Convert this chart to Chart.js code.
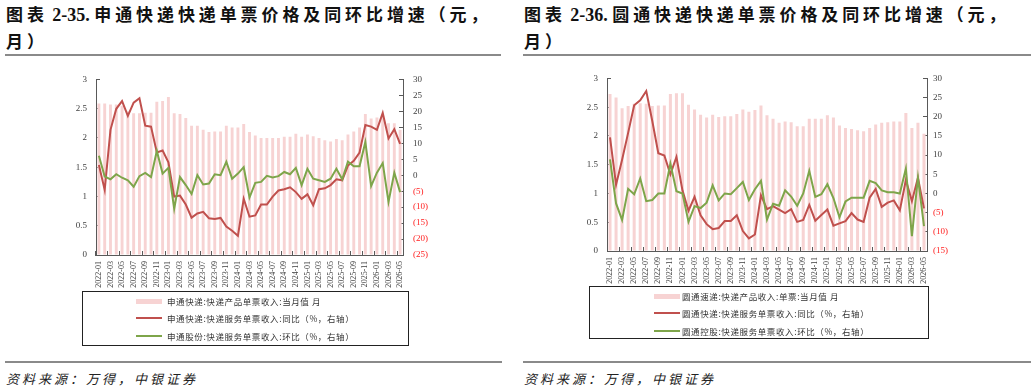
<!DOCTYPE html>
<html>
<head>
<meta charset="utf-8">
<script src="https://cdn.jsdelivr.net/npm/chart.js@4.4.1/dist/chart.umd.min.js"></script>
<style>
  body { margin: 0; width: 1033px; height: 391px; background: #fff; position: relative; overflow: hidden; font-family: "Noto Sans CJK SC", sans-serif; }
  .title { position: absolute; top: 1px; font-weight: bold; font-size: 17px; letter-spacing: 3.9px; line-height: 25px; color: #111; white-space: nowrap; }
  .title .num { font-family: "Liberation Serif", serif; letter-spacing: 0; font-size: 18px; }
  .rule { position: absolute; height: 2px; background: #8a8a8a; }
  .src { position: absolute; top: 369px; font-size: 13px; font-style: italic; letter-spacing: 3px; color: #222; white-space: nowrap; }
  .legend { position: absolute; border: 1px solid #222; box-sizing: border-box; }
  .legend .sw { position: absolute; width: 26px; }
  .legend .tx { position: absolute; font-size: 8.5px; letter-spacing: 0.6px; color: #333; white-space: nowrap; line-height: 12px; }
  canvas { position: absolute; }
</style>
</head>
<body>

<div class="title" style="left:6px;">图表<span class="num"> 2-35. </span>申通快递快递单票价格及同环比增速（元，<br>月）</div>
<div class="rule" style="left:5px; width:496px; top:54px;"></div>
<div class="title" style="left:524px;">图表<span class="num"> 2-36. </span>圆通快递快递单票价格及同环比增速（元，<br>月）</div>
<div class="rule" style="left:523px; width:508px; top:54px;"></div>

<canvas id="stoChart" width="510" height="240" style="left:0; top:60px;"></canvas>
<canvas id="ytoChart" width="513" height="236" style="left:520px; top:60px;"></canvas>

<div class="legend" style="left:82px; top:291px; width:327px; height:55px;">
  <div class="sw" style="left:53px; top:7px; height:5px; background:#f7d3d3;"></div>
  <div class="tx" style="left:84px; top:3px;">申通快递:快递产品单票收入:当月值 月</div>
  <div class="sw" style="left:53px; top:25px; height:2px; background:#c0504d;"></div>
  <div class="tx" style="left:84px; top:20px;">申通快递:快递服务单票收入:同比（%，右轴）</div>
  <div class="sw" style="left:53px; top:43px; height:2px; background:#7ea54a;"></div>
  <div class="tx" style="left:84px; top:38px;">申通股份:快递服务单票收入:环比（%，右轴）</div>
</div>

<div class="legend" style="left:589px; top:286px; width:340px; height:53px;">
  <div class="sw" style="left:64px; top:7px; height:5px; background:#f7d3d3;"></div>
  <div class="tx" style="left:92px; top:3px;">圆通速递:快递产品收入:单票:当月值 月</div>
  <div class="sw" style="left:64px; top:25px; height:2px; background:#c0504d;"></div>
  <div class="tx" style="left:92px; top:20px;">圆通快递:快递服务单票收入:同比（%，右轴）</div>
  <div class="sw" style="left:64px; top:43px; height:2px; background:#7ea54a;"></div>
  <div class="tx" style="left:92px; top:38px;">圆通控股:快递服务单票收入:环比（%，右轴）</div>
</div>

<div class="rule" style="left:5px; width:497px; top:361px;"></div>
<div class="src" style="left:6px;">资料来源：万得，中银证券</div>
<div class="rule" style="left:523px; width:508px; top:361px;"></div>
<div class="src" style="left:524px;">资料来源：万得，中银证券</div>

<script>
// 月份 2022-01 ~ 2026-05
const months = [
    '2022-01','2022-02','2022-03','2022-04','2022-05','2022-06','2022-07','2022-08','2022-09','2022-10','2022-11','2022-12',
    '2023-01','2023-02','2023-03','2023-04','2023-05','2023-06','2023-07','2023-08','2023-09','2023-10','2023-11','2023-12',
    '2024-01','2024-02','2024-03','2024-04','2024-05','2024-06','2024-07','2024-08','2024-09','2024-10','2024-11','2024-12',
    '2025-01','2025-02','2025-03','2025-04','2025-05','2025-06','2025-07','2025-08','2025-09','2025-10','2025-11','2025-12',
    '2026-01','2026-02','2026-03','2026-04','2026-05'
];

// 申通：单票收入（元）、同比（%）、环比（%）
const stoPrice = [
    2.59, 2.59, 2.57, 2.57, 2.55, 2.45, 2.42, 2.42, 2.43, 2.43,
    2.62, 2.63, 2.70, 2.42, 2.41, 2.34, 2.21, 2.21, 2.14, 2.10,
    2.11, 2.11, 2.21, 2.18, 2.18, 2.24, 2.10, 2.04, 2.00, 2.00,
    2.00, 2.00, 2.02, 2.02, 2.07, 2.02, 2.06, 2.03, 2.00, 1.96,
    1.94, 1.98, 1.96, 2.06, 2.11, 2.18, 2.41, 2.33, 2.35, 2.38,
    2.25, 2.25, 2.14
];
const stoYoy = [
    3.2, -4.6, 14.2, 20.8, 23.2, 18.6, 22.7, 24.1, 15.5, 15.2,
    7.1, 7.7, 4.0, -6.7, -6.4, -9.2, -13.3, -12.0, -11.5, -13.5,
    -13.7, -13.4, -16.1, -17.4, -19.0, -7.4, -13.0, -12.6, -9.2, -9.2,
    -6.7, -4.8, -4.4, -3.8, -5.3, -7.4, -6.0, -9.4, -4.4, -4.1,
    -3.1, -1.3, -1.6, 3.0, 4.5, 7.1, 15.7, 15.2, 14.2, 19.5,
    11.5, 14.4, 9.8
];
const stoQoq = [
    6.1, -0.4, -1.3, 0.3, -0.8, -1.6, -3.6, -0.3, 0.7, -0.6,
    7.6, 0.5, 2.3, -10.5, -0.6, -3.1, -5.9, 0.0, -2.9, -2.6,
    0.3, 0.0, 4.2, -1.1, 0.5, 2.5, -7.0, -2.4, -2.1, -0.2,
    -0.7, -0.3, 1.0, 0.3, 2.3, -3.1, 2.0, -1.1, -1.6, -2.1,
    -1.1, 2.0, -1.3, 4.2, 2.8, 2.8, 10.4, -3.4, 0.8, 3.8,
    -8.4, 0.8, -5.3
];

// 圆通：单票收入（元）、同比（%）、环比（%）
const ytoPrice = [
    2.73, 2.67, 2.48, 2.52, 2.56, 2.57, 2.56, 2.52, 2.53, 2.53,
    2.73, 2.74, 2.74, 2.54, 2.46, 2.37, 2.32, 2.37, 2.33, 2.34,
    2.34, 2.38, 2.46, 2.42, 2.45, 2.53, 2.36, 2.30, 2.23, 2.25,
    2.24, 2.17, 2.17, 2.30, 2.30, 2.30, 2.36, 2.32, 2.18, 2.14,
    2.12, 2.10, 2.08, 2.14, 2.20, 2.23, 2.24, 2.25, 2.25, 2.40,
    2.14, 2.23, 2.04
];
const ytoYoy = [
    14.6, 2.3, 8.8, 15.8, 23.0, 24.3, 26.7, 18.9, 10.5, 9.9,
    5.0, 9.5, 0.8, -4.5, -0.9, -5.7, -8.0, -9.3, -9.0, -7.2,
    -7.2, -5.7, -9.8, -11.7, -10.7, -0.5, -4.1, -3.3, -4.2, -5.1,
    -4.1, -7.4, -6.9, -3.0, -7.1, -5.6, -4.2, -8.4, -7.8, -7.2,
    -5.1, -6.8, -7.4, -1.1, 1.2, -3.5, -2.4, -1.8, -4.4, 3.5,
    -2.0, 4.1, -3.9
];
const ytoQoq = [
    8.9, -2.6, -6.9, 1.2, -0.2, 3.9, -2.0, -1.7, 0.0, 0.0,
    7.8, 0.6, 0.0, -7.4, -3.3, -3.8, -2.4, 2.1, -1.8, 0.0,
    -0.2, 1.4, 3.0, -1.7, 1.1, 3.3, -6.8, -2.7, -3.2, 0.8,
    -0.8, -3.2, 0.0, 5.9, -0.9, -0.2, 2.4, -1.2, -6.2, -2.1,
    -1.1, -1.1, -1.1, 3.3, 2.7, 0.8, 0.3, 0.3, 0.0, 6.5,
    -11.1, 4.1, -8.5
];

const axisColor = '#595959';
const tickFont = { family: 'Liberation Serif', size: 9 };

function buildChart(id, price, yoy, qoq, opt) {
    const ctx = document.getElementById(id).getContext('2d');
    return new Chart(ctx, {
        data: {
            labels: months,
            datasets: [{
                type: 'line',
                data: qoq,
                borderColor: '#7ea54a',
                borderWidth: 2,
                pointRadius: 0,
                tension: 0,
                yAxisID: 'y1',
                order: 1
            }, {
                type: 'line',
                data: yoy,
                borderColor: '#c0504d',
                borderWidth: 2,
                pointRadius: 0,
                tension: 0,
                yAxisID: 'y1',
                order: 2
            }, {
                type: 'bar',
                data: price,
                backgroundColor: '#f7d3d3',
                barPercentage: 0.5,
                categoryPercentage: 1,
                yAxisID: 'y',
                order: 3
            }]
        },
        options: {
            responsive: false,
            animation: false,
            devicePixelRatio: 1,
            layout: { padding: opt.padding },
            plugins: { legend: { display: false }, tooltip: { enabled: false } },
            scales: {
                x: {
                    offset: true,
                    grid: {
                        offset: true,
                        drawOnChartArea: false,
                        tickLength: -4,
                        tickColor: c => (c.index % 2 === 0 ? axisColor : 'rgba(0,0,0,0)')
                    },
                    border: { color: axisColor },
                    ticks: {
                        autoSkip: false,
                        maxRotation: 90,
                        minRotation: 90,
                        padding: 10,
                        color: '#404040',
                        font: { family: 'Liberation Serif', size: 8 },
                        callback: (v, i) => (i % 2 === 0 ? months[i] : '')
                    },
                    afterFit: s => { s.height = 40; }
                },
                y: {
                    position: 'left',
                    min: 0,
                    max: 3,
                    grid: { drawOnChartArea: false, tickLength: -4, tickColor: axisColor },
                    border: { color: axisColor },
                    ticks: {
                        stepSize: 0.5,
                        padding: 13,
                        color: '#404040',
                        font: tickFont,
                        callback: v => String(v)
                    },
                    afterFit: s => { s.width = opt.leftW; }
                },
                y1: {
                    position: 'right',
                    min: opt.rMin,
                    max: 30,
                    grid: { drawOnChartArea: false, tickLength: -4, tickColor: axisColor },
                    border: { color: axisColor },
                    ticks: {
                        stepSize: 5,
                        padding: opt.rPad,
                        color: c => (c.tick.value < 0 ? '#ff2020' : '#404040'),
                        font: tickFont,
                        callback: v => (v < 0 ? '(' + (-v) + ')' : String(v))
                    },
                    afterFit: s => { s.width = 40; }
                }
            }
        }
    });
}

buildChart('stoChart', stoPrice, stoYoy, stoQoq, {
    padding: { left: 50, right: 67, top: 15, bottom: 5 },
    leftW: 46, rMin: -25, rPad: 14
});
buildChart('ytoChart', ytoPrice, ytoYoy, ytoQoq, {
    padding: { left: 47, right: 66, top: 15, bottom: 5 },
    leftW: 40, rMin: -15, rPad: 10
});
</script>
</body>
</html>
